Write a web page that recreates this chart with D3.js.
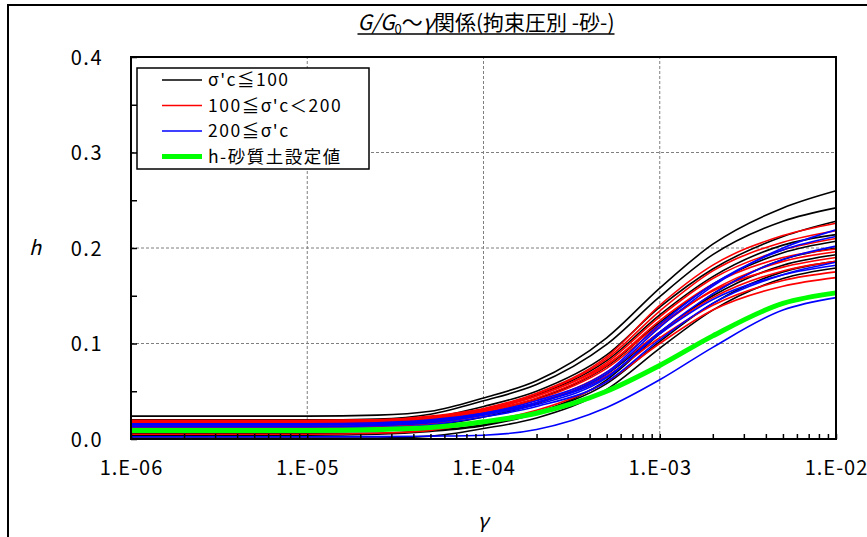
<!DOCTYPE html>
<html>
<head>
<meta charset="utf-8">
<script src="https://cdn.jsdelivr.net/npm/d3@7"></script>
<style>
	body { margin: 0; background: #fff; }
	svg text { font-family: "Noto Sans CJK JP", sans-serif; fill: #000; }
</style>
</head>
<body>
<svg id="chart" width="867" height="537"></svg>
<script>
"use strict";

// strain points shared by every curve
const strain = [1e-6, 1e-5, 2.5e-5, 5e-5, 1e-4, 2e-4, 5e-4, 1e-3, 2e-3, 5e-3, 1e-2];

// σ'c <= 100
const blackSeries = [
	[0.024, 0.024, 0.025, 0.029, 0.043, 0.061, 0.106, 0.158, 0.204, 0.242, 0.260],
	[0.020, 0.020, 0.021, 0.026, 0.040, 0.057, 0.099, 0.149, 0.193, 0.228, 0.242],
	[0.017, 0.017, 0.018, 0.022, 0.034, 0.050, 0.088, 0.138, 0.178, 0.212, 0.228],
	[0.015, 0.015, 0.016, 0.019, 0.030, 0.046, 0.082, 0.130, 0.170, 0.203, 0.214],
	[0.013, 0.013, 0.014, 0.017, 0.027, 0.042, 0.076, 0.122, 0.162, 0.195, 0.207],
	[0.010, 0.010, 0.011, 0.014, 0.023, 0.037, 0.068, 0.112, 0.150, 0.182, 0.193],
	[0.004, 0.004, 0.005, 0.008, 0.014, 0.027, 0.062, 0.110, 0.152, 0.188, 0.200],
	[0.006, 0.006, 0.006, 0.009, 0.015, 0.028, 0.058, 0.102, 0.142, 0.175, 0.186],
	[0.001, 0.001, 0.001, 0.003, 0.011, 0.022, 0.052, 0.095, 0.135, 0.168, 0.179],
];

// 100 <= σ'c < 200
const redSeries = [
	[0.0196, 0.0196, 0.020, 0.024, 0.032, 0.048, 0.086, 0.140, 0.182, 0.213, 0.226],
	[0.019, 0.019, 0.020, 0.023, 0.031, 0.047, 0.084, 0.134, 0.176, 0.206, 0.218],
	[0.017, 0.017, 0.018, 0.021, 0.030, 0.045, 0.080, 0.128, 0.168, 0.198, 0.210],
	[0.016, 0.016, 0.017, 0.020, 0.029, 0.043, 0.077, 0.124, 0.162, 0.190, 0.199],
	[0.015, 0.015, 0.016, 0.019, 0.028, 0.041, 0.074, 0.118, 0.156, 0.186, 0.196],
	[0.018, 0.018, 0.019, 0.022, 0.031, 0.045, 0.078, 0.120, 0.155, 0.180, 0.190],
	[0.012, 0.012, 0.013, 0.016, 0.025, 0.038, 0.070, 0.112, 0.148, 0.176, 0.186],
	[0.014, 0.014, 0.015, 0.018, 0.026, 0.038, 0.066, 0.106, 0.140, 0.166, 0.175],
	[0.005, 0.005, 0.006, 0.009, 0.018, 0.030, 0.060, 0.100, 0.135, 0.160, 0.169],
];

// 200 <= σ'c
const blueSeries = [
	[0.0147, 0.0147, 0.015, 0.018, 0.026, 0.038, 0.068, 0.117, 0.160, 0.200, 0.219],
	[0.015, 0.015, 0.016, 0.019, 0.027, 0.040, 0.070, 0.120, 0.162, 0.198, 0.212],
	[0.013, 0.013, 0.014, 0.017, 0.025, 0.036, 0.064, 0.112, 0.152, 0.188, 0.202],
	[0.011, 0.011, 0.012, 0.015, 0.023, 0.034, 0.060, 0.104, 0.142, 0.172, 0.185],
	[0.016, 0.016, 0.017, 0.020, 0.027, 0.038, 0.065, 0.110, 0.146, 0.172, 0.182],
	[0.0024, 0.0024, 0.0025, 0.003, 0.004, 0.010, 0.033, 0.062, 0.096, 0.135, 0.148],
];

// h - sandy soil design values
const designValues = [0.009, 0.009, 0.010, 0.012, 0.018, 0.027, 0.050, 0.077, 0.108, 0.142, 0.153];

const legendLabels = ["σ'c≦100", "100≦σ'c＜200", "200≦σ'c", "h-砂質土設定値"];
const yTickValues = [0, 0.1, 0.2, 0.3, 0.4];
const xTickValues = [1e-6, 1e-5, 1e-4, 1e-3, 1e-2];
const xTickLabels = ["1.E-06", "1.E-05", "1.E-04", "1.E-03", "1.E-02"];

const svg = d3.select('#chart');

// outer chart frame (runs past the window on the right and bottom)
svg.append('rect')
	.attr('x', 8).attr('y', 5)
	.attr('width', 950).attr('height', 650)
	.attr('fill', 'none').attr('stroke', '#000').attr('stroke-width', 2);

const x = d3.scaleLog().domain([1e-6, 1e-2]).range([131, 836]);
const y = d3.scaleLinear().domain([0, 0.4]).range([439, 57]);

// grid
const grid = svg.append('g').attr('class', 'grid')
	.attr('stroke', '#7f7f7f').attr('stroke-width', 1).attr('stroke-dasharray', '3,2');
grid.selectAll('line.gy')
	.data([0.1, 0.2, 0.3])
	.enter().append('line')
	.attr('class', 'gy')
	.attr('x1', x.range()[0]).attr('x2', x.range()[1])
	.attr('y1', (d) => y(d)).attr('y2', (d) => y(d));
grid.selectAll('line.gx')
	.data([1e-5, 1e-4, 1e-3])
	.enter().append('line')
	.attr('class', 'gx')
	.attr('y1', y.range()[0]).attr('y2', y.range()[1])
	.attr('x1', (d) => x(d)).attr('x2', (d) => x(d));

// curves
const line = d3.line()
	.x((d, i) => x(strain[i]))
	.y((d) => y(d))
	.curve(d3.curveMonotoneX);

const draw = (series, color, width, cls) => {
	svg.append('g').attr('class', cls)
		.selectAll('path')
		.data(series)
		.enter().append('path')
		.attr('d', line)
		.attr('fill', 'none')
		.attr('stroke', color)
		.attr('stroke-width', width)
		.attr('stroke-linejoin', 'round');
};
draw(blackSeries, '#000', 1.6, 'black');
draw(redSeries, '#ff0000', 1.6, 'red');
draw(blueSeries, '#0000ff', 1.6, 'blue');
draw([designValues], '#00ff00', 5, 'green');

// plot frame
svg.append('rect')
	.attr('x', x.range()[0]).attr('y', y.range()[1])
	.attr('width', x.range()[1] - x.range()[0])
	.attr('height', y.range()[0] - y.range()[1])
	.attr('fill', 'none').attr('stroke', '#000').attr('stroke-width', 2);

// y axis: inward ticks every 0.05, labels every 0.1
svg.append('g')
	.attr('transform', `translate(${x.range()[0]},0)`)
	.call(d3.axisLeft(y).tickValues(d3.range(0, 0.4001, 0.05)).tickSize(-6).tickFormat(''))
	.call((g) => g.select('.domain').remove())
	.selectAll('line').attr('stroke', '#000').attr('stroke-width', 1.5);
svg.append('g')
	.attr('transform', `translate(${x.range()[0]},0)`)
	.call(d3.axisLeft(y).tickValues(yTickValues).tickSize(0).tickPadding(28).tickFormat(d3.format('.1f')))
	.call((g) => g.select('.domain').remove())
	.selectAll('text')
	.attr('font-family', null)
	.style('font-size', '20px')
	.style('letter-spacing', '1.5px')
	.attr('dy', '0.36em');

// x axis: inward log ticks, labels at decades
svg.append('g')
	.attr('transform', `translate(0,${y.range()[0]})`)
	.call(d3.axisBottom(x).tickValues(x.ticks()).tickSize(-5).tickFormat(''))
	.call((g) => g.select('.domain').remove())
	.selectAll('line').attr('stroke', '#000').attr('stroke-width', 1.5);
svg.append('g')
	.attr('transform', `translate(0,${y.range()[0]})`)
	.call(d3.axisBottom(x).tickValues(xTickValues).tickSize(0).tickPadding(22).tickFormat((d, i) => xTickLabels[i]))
	.call((g) => g.select('.domain').remove())
	.selectAll('text')
	.attr('font-family', null)
	.style('font-size', '20px')
	.style('letter-spacing', '1px');

// axis titles
svg.append('text')
	.attr('x', 35).attr('y', 255)
	.attr('text-anchor', 'middle')
	.style('font-size', '20px').style('font-style', 'italic')
	.text('h');
svg.append('text')
	.attr('x', 483).attr('y', 528)
	.attr('text-anchor', 'middle')
	.style('font-size', '20px').style('font-style', 'italic')
	.text('γ');

// title
const title = svg.append('text')
	.attr('x', 486).attr('y', 30)
	.attr('text-anchor', 'middle')
	.style('font-size', '21px');
title.append('tspan').style('font-style', 'italic').text('G/G');
title.append('tspan').attr('dy', 4).style('font-size', '13px').text('0');
title.append('tspan').attr('dy', -4).text('〜');
title.append('tspan').style('font-style', 'italic').text('γ');
title.append('tspan').text('関係(拘束圧別 -砂-)');
const tb = title.node().getBBox();
svg.append('line')
	.attr('x1', tb.x).attr('x2', tb.x + tb.width)
	.attr('y1', 34).attr('y2', 34)
	.attr('stroke', '#000').attr('stroke-width', 1.5);

// legend
const legend = svg.append('g').attr('class', 'legend');
legend.append('rect')
	.attr('x', 137).attr('y', 68)
	.attr('width', 232).attr('height', 101)
	.attr('fill', '#fff').attr('stroke', '#000').attr('stroke-width', 1.5);
const legendColors = ['#000', '#ff0000', '#0000ff', '#00ff00'];
const legendWidths = [1.6, 1.6, 1.6, 5];
const rows = legend.selectAll('g.row')
	.data(legendLabels)
	.enter().append('g')
	.attr('class', 'row')
	.attr('transform', (d, i) => `translate(0,${80 + i * 25.5})`);
rows.append('line')
	.attr('x1', 162).attr('x2', 202)
	.attr('stroke', (d, i) => legendColors[i])
	.attr('stroke-width', (d, i) => legendWidths[i]);
rows.append('text')
	.attr('x', 208).attr('dy', '0.36em')
	.style('font-size', '17.5px')
	.style('letter-spacing', '1.5px')
	.text((d) => d);
</script>
</body>
</html>
